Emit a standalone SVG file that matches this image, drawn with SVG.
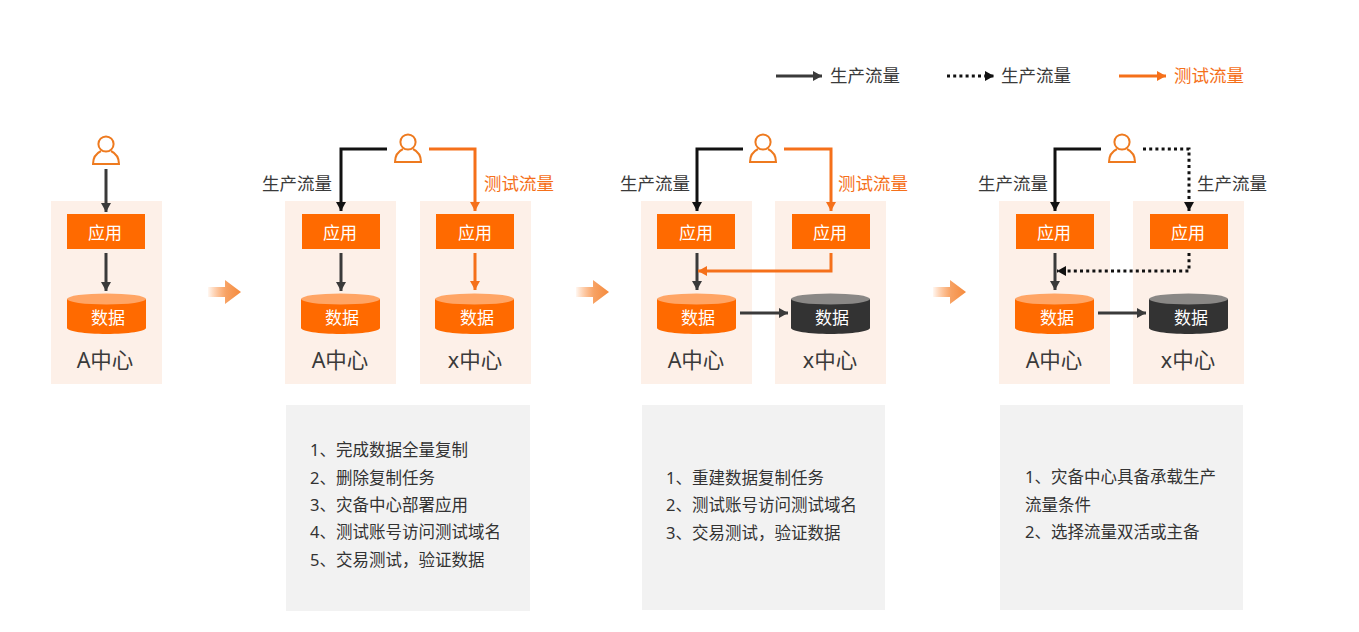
<svg xmlns="http://www.w3.org/2000/svg" width="1359" height="632" viewBox="0 0 1359 632">
<style>
text{font-family:"Noto Sans","Noto Sans CJK SC",sans-serif}
.bg{fill:#fdf0e8}
.app{fill:#ff6a00}
.t{fill:#fff;font-size:17px;text-anchor:middle}
.c{fill:#3a3a3a;font-size:21.500px;text-anchor:middle}
.l{fill:#3a3a3a;font-size:17.500px}
.lo{fill:#f5701a;font-size:17.500px}
.note{fill:#f2f2f2}
.n{fill:#333;font-size:16.500px}
.ln{fill:none;stroke-width:3}
.k{stroke:#111}
.g{stroke:#3a3a3a}
.o{stroke:#f5701a}
.d{stroke-dasharray:3 3.2}
.p{fill:none;stroke:#ee7a1f;stroke-width:2}
.tb{fill:#ff6a00}.tt{fill:#ffa565}
.db{fill:#333}.dt{fill:#8a8886}
</style>
<defs>
<marker id="ak" markerUnits="userSpaceOnUse" markerWidth="10" markerHeight="10" refX="9" refY="5" orient="auto"><path d="M0 0L9 5L0 10z" fill="#111"/></marker>
<marker id="ag" markerUnits="userSpaceOnUse" markerWidth="10" markerHeight="10" refX="9" refY="5" orient="auto"><path d="M0 0L9 5L0 10z" fill="#3a3a3a"/></marker>
<marker id="ao" markerUnits="userSpaceOnUse" markerWidth="10" markerHeight="10" refX="9" refY="5" orient="auto"><path d="M0 0L9 5L0 10z" fill="#f5701a"/></marker>
<linearGradient id="fade"><stop offset="0" stop-color="#ff6a00" stop-opacity=".05"/><stop offset=".55" stop-color="#f58a3c" stop-opacity=".8"/><stop offset="1" stop-color="#f58a3c"/></linearGradient>
<g id="person"><circle cx="0" cy="8" r="7.600" class="p"/><path d="M-5 15C-9 17-13 21-13 28H13C13 21 9 17 5 15" class="p"/></g>
<path id="flow" d="M0 -5H17V-12L33 0L17 12V5H0Z" fill="url(#fade)"/>
<g id="cylO"><path d="M0 6V35C0 38 18 41 39.500 41S79 38 79 35V6Z" class="tb"/><ellipse cx="39.500" cy="6" rx="39.500" ry="5.500" class="tt"/></g>
<g id="cylD"><path d="M0 6V35C0 38 18 41 39.500 41S79 38 79 35V6Z" class="db"/><ellipse cx="39.500" cy="6" rx="39.500" ry="5.500" class="dt"/></g>
</defs>

<g id="legend">
<text x="830" y="82" class="l">生产流量</text>
<text x="1001" y="82" class="l">生产流量</text>
<text x="1174" y="82" class="lo">测试流量</text>
</g>

<g id="a1"><rect x="51" y="201" width="111" height="183" class="bg"/><rect x="67" y="214" width="78" height="35" class="app"/><text x="105" y="239" class="t">应用</text><use href="#cylO" x="67" y="293"/><text x="108" y="324" class="t">数据</text><text x="105" y="368" class="c">A中心</text></g>
<g id="a2"><rect x="285" y="201" width="111" height="183" class="bg"/><rect x="302" y="214" width="78" height="35" class="app"/><text x="340" y="239" class="t">应用</text><use href="#cylO" x="301" y="293"/><text x="342" y="324" class="t">数据</text><text x="340" y="368" class="c">A中心</text></g>
<g id="x2"><rect x="420" y="201" width="111" height="183" class="bg"/><rect x="436" y="214" width="78" height="35" class="app"/><text x="475" y="239" class="t">应用</text><use href="#cylO" x="435" y="293"/><text x="477" y="324" class="t">数据</text><text x="475" y="368" class="c">x中心</text></g>
<g id="a3"><rect x="641" y="201" width="111" height="183" class="bg"/><rect x="657" y="214" width="78" height="35" class="app"/><text x="696" y="239" class="t">应用</text><use href="#cylO" x="657" y="293"/><text x="698" y="324" class="t">数据</text><text x="696" y="368" class="c">A中心</text></g>
<g id="x3"><rect x="775" y="201" width="111" height="183" class="bg"/><rect x="792" y="214" width="78" height="35" class="app"/><text x="830" y="239" class="t">应用</text><use href="#cylD" x="791" y="293"/><text x="832" y="324" class="t">数据</text><text x="830" y="368" class="c">x中心</text></g>
<g id="a4"><rect x="999" y="201" width="111" height="183" class="bg"/><rect x="1016" y="214" width="78" height="35" class="app"/><text x="1054" y="239" class="t">应用</text><use href="#cylO" x="1015" y="293"/><text x="1057" y="324" class="t">数据</text><text x="1054" y="368" class="c">A中心</text></g>
<g id="x4"><rect x="1133" y="201" width="111" height="183" class="bg"/><rect x="1150" y="214" width="78" height="35" class="app"/><text x="1188" y="239" class="t">应用</text><use href="#cylD" x="1149" y="293"/><text x="1191" y="324" class="t">数据</text><text x="1188" y="368" class="c">x中心</text></g>

<g id="user1"><use href="#person" x="106" y="136"/></g>
<g id="user2"><use href="#person" x="408" y="134"/></g>
<g id="user3"><use href="#person" x="763" y="134"/></g>
<g id="user4"><use href="#person" x="1122" y="134"/></g>

<g id="flow-arrows"><use href="#flow" x="208" y="292"/><use href="#flow" x="576" y="292"/><use href="#flow" x="933" y="292"/></g>

<g id="connectors">
<path d="M776 76H822" class="ln g" marker-end="url(#ag)"/>
<path d="M947 76H994" class="ln k d" marker-end="url(#ak)"/>
<path d="M1119 76H1166" class="ln o" marker-end="url(#ao)"/>

<path d="M106 169V212" class="ln g" marker-end="url(#ag)"/>
<path d="M106 253V291" class="ln g" marker-end="url(#ag)"/>

<path d="M387 149H341V211" class="ln k" marker-end="url(#ak)"/>
<path d="M429 149H475V211" class="ln o" marker-end="url(#ao)"/>
<path d="M341 253V291" class="ln g" marker-end="url(#ag)"/>
<path d="M475 253V290" class="ln o" marker-end="url(#ao)"/>

<path d="M743 149H697V211" class="ln k" marker-end="url(#ak)"/>
<path d="M784 149H831V211" class="ln o" marker-end="url(#ao)"/>
<path d="M697 253V290" class="ln g" marker-end="url(#ag)"/>
<path d="M831 253V271H698" class="ln o" marker-end="url(#ao)"/>
<path d="M740 313H788" class="ln g" marker-end="url(#ag)"/>

<path d="M1101 149H1055V211" class="ln k" marker-end="url(#ak)"/>
<path d="M1143 149H1189V211" class="ln k d" marker-end="url(#ak)"/>
<path d="M1055 253V290" class="ln g" marker-end="url(#ag)"/>
<path d="M1189 253V271H1057" class="ln k d" marker-end="url(#ak)"/>
<path d="M1098 313H1146" class="ln g" marker-end="url(#ag)"/>
</g>

<g id="labels">
<text x="262" y="190" class="l">生产流量</text>
<text x="484" y="190" class="lo">测试流量</text>
<text x="620" y="190" class="l">生产流量</text>
<text x="838" y="190" class="lo">测试流量</text>
<text x="978" y="190" class="l">生产流量</text>
<text x="1197" y="190" class="l">生产流量</text>
</g>

<g id="note2"><rect x="286" y="405" width="244" height="206" class="note"/>
<text x="310" y="456" class="n">1、完成数据全量复制</text>
<text x="310" y="484" class="n">2、删除复制任务</text>
<text x="310" y="511" class="n">3、灾备中心部署应用</text>
<text x="310" y="538" class="n">4、测试账号访问测试域名</text>
<text x="310" y="566" class="n">5、交易测试，验证数据</text></g>
<g id="note3"><rect x="642" y="405" width="243" height="205" class="note"/>
<text x="666" y="484" class="n">1、重建数据复制任务</text>
<text x="666" y="511" class="n">2、测试账号访问测试域名</text>
<text x="666" y="539" class="n">3、交易测试，验证数据</text></g>
<g id="note4"><rect x="1000" y="405" width="243" height="205" class="note"/>
<text x="1025" y="483" class="n">1、灾备中心具备承载生产</text>
<text x="1025" y="511" class="n">流量条件</text>
<text x="1025" y="538" class="n">2、选择流量双活或主备</text></g>
</svg>
